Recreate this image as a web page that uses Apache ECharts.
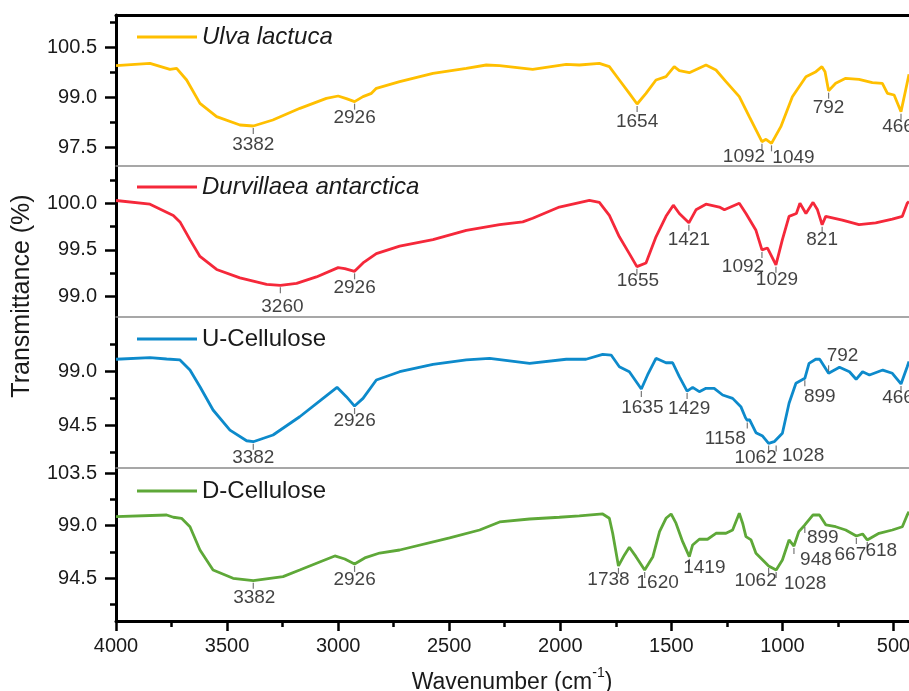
<!DOCTYPE html>
<html><head><meta charset="utf-8">
<script src="https://cdn.jsdelivr.net/npm/echarts@6/dist/echarts.min.js"></script>
<style>html,body{margin:0;padding:0;background:#fff}#c{width:909px;height:691px}</style>
</head><body><div id="c"></div>
<script>
// ---------- data ----------
const seriesNames = ['Ulva lactuca', 'Durvillaea antarctica', 'U-Cellulose', 'D-Cellulose'];

const ulva = [[4000,99.96],[3847,100.03],[3757,99.85],[3727,99.88],[3682,99.53],[3622,98.83],[3547,98.43],[3442,98.18],[3382,98.15],[3294,98.33],[3172,98.68],[3053,98.98],[3000,99.05],[2963,98.97],[2926,98.88],[2888,99.03],[2850,99.13],[2828,99.28],[2723,99.48],[2573,99.73],[2423,99.88],[2333,99.98],[2273,99.96],[2124,99.85],[1973,100.0],[1914,99.98],[1824,100.03],[1779,99.93],[1734,99.53],[1689,99.13],[1654,98.81],[1614,99.13],[1569,99.53],[1524,99.63],[1487,99.93],[1464,99.81],[1419,99.75],[1344,99.98],[1299,99.83],[1254,99.48],[1194,99.03],[1149,98.43],[1092,97.68],[1074,97.75],[1049,97.63],[1007,98.13],[955,99.03],[894,99.63],[849,99.78],[822,99.93],[808,99.78],[792,99.21],[760,99.43],[715,99.58],[655,99.55],[595,99.45],[550,99.43],[527,99.13],[497,99.08],[466,98.58],[445,99.23],[430,99.7]];

const durvillaea = [[4000,100.03],[3847,99.99],[3742,99.87],[3712,99.80],[3667,99.61],[3622,99.43],[3547,99.29],[3442,99.20],[3322,99.13],[3260,99.12],[3187,99.14],[3098,99.21],[3000,99.31],[2970,99.30],[2926,99.27],[2888,99.36],[2828,99.46],[2723,99.54],[2573,99.61],[2423,99.71],[2273,99.77],[2169,99.80],[2124,99.84],[2004,99.96],[1869,100.03],[1824,100.01],[1779,99.87],[1734,99.64],[1689,99.46],[1655,99.32],[1614,99.36],[1569,99.64],[1524,99.86],[1491,99.98],[1464,99.89],[1421,99.79],[1389,99.93],[1344,99.99],[1284,99.96],[1261,99.93],[1194,100.0],[1164,99.89],[1119,99.71],[1092,99.50],[1067,99.52],[1029,99.34],[1000,99.61],[970,99.86],[937,99.89],[921,100.0],[894,99.89],[862,100.01],[842,99.93],[821,99.77],[805,99.86],[730,99.82],[655,99.77],[580,99.79],[505,99.83],[460,99.86],[438,100.0],[430,100.02]];

const uCellulose = [[4000,99.98],[3847,100.11],[3772,100.0],[3712,99.92],[3667,99.08],[3622,97.69],[3563,95.75],[3487,94.08],[3412,93.19],[3382,93.11],[3293,93.67],[3173,95.19],[3068,96.72],[3005,97.64],[2963,96.86],[2926,96.08],[2888,96.72],[2828,98.25],[2723,98.94],[2573,99.56],[2423,99.92],[2318,100.06],[2138,99.64],[1973,99.98],[1884,99.98],[1809,100.39],[1771,100.33],[1734,99.36],[1689,98.94],[1635,97.5],[1607,98.67],[1569,100.06],[1524,99.69],[1494,99.69],[1464,98.53],[1429,97.33],[1404,97.64],[1374,97.28],[1344,97.56],[1307,97.56],[1269,97.0],[1224,96.72],[1187,96.03],[1166,95.1],[1158,94.88],[1148,94.95],[1119,93.86],[1089,93.58],[1062,92.97],[1037,93.11],[1028,92.97],[1000,93.81],[970,96.31],[939,97.98],[899,98.39],[880,99.64],[850,99.98],[832,99.98],[792,98.81],[743,99.31],[698,98.94],[668,98.31],[639,98.94],[608,98.67],[548,99.08],[505,98.81],[466,97.92],[438,99.36],[430,99.8]];

const dCellulose = [[4000,99.77],[3772,99.91],[3742,99.72],[3705,99.63],[3667,98.91],[3622,96.92],[3563,95.21],[3473,94.50],[3382,94.30],[3248,94.64],[3173,95.21],[3083,95.90],[3015,96.41],[2970,96.15],[2926,95.73],[2880,96.24],[2813,96.66],[2723,96.92],[2498,97.95],[2363,98.63],[2273,99.32],[2138,99.57],[2004,99.72],[1914,99.83],[1809,100.0],[1779,99.63],[1764,98.35],[1738,95.56],[1711,96.50],[1689,97.15],[1659,96.35],[1620,95.21],[1583,96.35],[1553,98.49],[1524,99.63],[1501,100.0],[1479,99.21],[1449,97.63],[1419,96.35],[1404,97.35],[1374,97.84],[1337,97.84],[1299,98.35],[1254,98.35],[1224,98.63],[1194,100.06],[1179,99.21],[1164,98.06],[1141,97.78],[1119,96.64],[1074,95.79],[1062,95.56],[1028,95.21],[1000,96.07],[970,97.78],[948,97.26],[926,98.49],[899,99.06],[863,99.91],[833,99.91],[804,99.06],[760,98.91],[715,98.63],[667,98.12],[639,98.29],[618,97.78],[565,98.35],[505,98.63],[460,98.91],[438,99.91],[430,100.2]];

const ulvaPeaks = [3382, 2926, 1654, 1092, 1049, 792, 466];
const durvillaeaPeaks = [3260, 2926, 1655, 1421, 1092, 1029, 821];
const uCellulosePeaks = [3382, 2926, 1635, 1429, 1158, 1062, 1028, 899, 792, 466];
const dCellulosePeaks = [3382, 2926, 1738, 1620, 1419, 1062, 1028, 948, 899, 667, 618];

const xTickLabels = [4000, 3500, 3000, 2500, 2000, 1500, 1000, 500];
const xMinorTicks = [3750, 3250, 2750, 2250, 1750, 1250, 750];
const yTickLabels = [[97.5, 99.0, 100.5], [99.0, 99.5, 100.0], [94.5, 99.0], [94.5, 99.0, 103.5]];
const yMinorTicks = [[98.25, 99.75, 101.25], [99.25, 99.75, 100.25], [92.25, 96.75, 101.25], [92.25, 96.75, 101.25]];

// ---------- layout / style ----------
const allData = [ulva, durvillaea, uCellulose, dCellulose];
const allPeaks = [ulvaPeaks, durvillaeaPeaks, uCellulosePeaks, dCellulosePeaks];
const colors = ['#FFBF00', '#F5283A', '#0D8ACB', '#5EA838'];
const yRanges = [[96.95, 101.48], [98.78, 100.40], [90.92, 103.5], [90.85, 103.93]];
const gridTops = [15, 166, 317, 468];
const gridHeights = [151, 151, 151, 153];
const legendTops = [25, 175, 327, 479];
const labelOffsets = [
  {3382:[0,19], 2926:[0,16], 1654:[0,18], 1092:[-18,15], 1049:[22,14], 792:[0,17], 466:[-3,15]},
  {3260:[2,21], 2926:[0,16], 1655:[1,14], 1421:[0,17], 1092:[-19,17], 1029:[1,15], 821:[0,15]},
  {3382:[0,16], 2926:[0,15], 1635:[1,19], 1429:[2,18], 1158:[-22,18], 1062:[-13,14], 1028:[27,12], 899:[15,18], 792:[14,-18], 466:[-3,14]},
  {3382:[1,17], 2926:[0,16], 1738:[-10,14], 1620:[13,13], 1419:[15,11], 1062:[-13,15], 1028:[29,14], 948:[22,14], 899:[18,13], 667:[-6,19], 618:[14,11]}
];
const FONT = 'Liberation Sans, Arial, Helvetica, sans-serif';
const XMIN = 430, XMAX = 4000;

const grid = [];
for (let k = 0; k < 2; k++) for (let i = 0; i < 4; i++) grid.push({left: 116, right: 0, top: gridTops[i], height: gridHeights[i], containLabel: false, outerBoundsMode: 'none'});

const xAxis = [];
for (let i = 0; i < 4; i++) {
  xAxis.push({gridIndex: i, type: 'value', min: XMIN, max: XMAX, inverse: true, position: 'top',
    axisLine: {show: true, onZero: false, lineStyle: {color: i === 0 ? '#000' : '#8a8a8a', width: i === 0 ? 3 : 1.5}},
    axisTick: {show: false}, axisLabel: {show: false}, splitLine: {show: false}});
}
xAxis.push({gridIndex: 3, type: 'value', min: XMIN, max: XMAX, inverse: true, position: 'bottom',
  axisLine: {show: true, onZero: false, lineStyle: {color: '#000', width: 3}},
  axisTick: {show: true, customValues: xTickLabels, length: 10, inside: false, lineStyle: {color: '#000', width: 2.5}},
  axisLabel: {show: true, customValues: xTickLabels, fontSize: 20, margin: 15, color: '#1a1a1a', fontFamily: FONT,
    formatter: v => String(Math.round(v))},
  splitLine: {show: false}});
for (let i = 0; i < 4; i++) {
  xAxis.push({gridIndex: 4 + i, type: 'value', min: XMIN, max: XMAX, inverse: true, position: 'bottom',
    axisLine: {show: false, onZero: false},
    axisTick: {show: i === 3, customValues: xMinorTicks, length: 6, inside: false, lineStyle: {color: '#000', width: 2.5}},
    axisLabel: {show: false}, splitLine: {show: false}});
}

const yAxis = [];
for (let i = 0; i < 4; i++) {
  yAxis.push({gridIndex: i, type: 'value', min: yRanges[i][0], max: yRanges[i][1], position: 'left',
    axisLine: {show: true, onZero: false, lineStyle: {color: '#000', width: 3}},
    axisTick: {show: true, customValues: yTickLabels[i], length: 11, inside: false, lineStyle: {color: '#000', width: 2.5}},
    axisLabel: {show: true, customValues: yTickLabels[i], fontSize: 20, margin: 19, color: '#1a1a1a', fontFamily: FONT,
      formatter: v => Number(v).toFixed(1)},
    splitLine: {show: false}});
}
for (let i = 0; i < 4; i++) {
  yAxis.push({gridIndex: 4 + i, type: 'value', min: yRanges[i][0], max: yRanges[i][1], position: 'left',
    axisLine: {show: false, onZero: false},
    axisTick: {show: true, customValues: yMinorTicks[i], length: 6, inside: false, lineStyle: {color: '#000', width: 2.5}},
    axisLabel: {show: false}, splitLine: {show: false}});
}

const series = [];
for (let i = 0; i < 4; i++) {
  series.push({name: seriesNames[i], type: 'line', xAxisIndex: i, yAxisIndex: i, data: allData[i],
    symbol: 'none', smooth: false, clip: true, z: 3,
    lineStyle: {color: colors[i], width: 2.8}, itemStyle: {color: colors[i]}});
  const lookup = new Map(allData[i].map(p => [p[0], p[1]]));
  const pts = allPeaks[i].map(w => {
    const off = labelOffsets[i][w] || [0, 16];
    const t = off[1] < 0 ? -5 : 5;
    return {value: [w, lookup.get(w)], symbolOffset: [0, t], label: {offset: [off[0], off[1] - t]}};
  });
  series.push({name: 'peaks' + i, type: 'scatter', xAxisIndex: i, yAxisIndex: i, data: pts,
    symbol: 'rect', symbolSize: [1.2, 6], itemStyle: {color: '#555'}, z: 4, silent: true,
    label: {show: true, position: 'inside', formatter: p => String(p.value[0]), fontSize: 19,
      color: '#111', fontFamily: FONT}});
}

const legend = seriesNames.map((n, i) => ({
  data: [{name: n, icon: 'rect', itemStyle: {color: colors[i]}}], left: 137, top: legendTops[i], padding: 0,
  itemWidth: 60, itemHeight: 3, itemGap: 0, selectedMode: false,
  textStyle: {fontSize: 24, fontStyle: i < 2 ? 'italic' : 'normal', color: '#1a1a1a', fontFamily: FONT}
}));

const option = {
  animation: false,
  backgroundColor: '#ffffff',
  grid, xAxis, yAxis, series, legend,
  graphic: [
    {type: 'text', style: {text: 'Transmittance (%)', fontSize: 25, fontFamily: FONT, fill: '#1a1a1a', align: 'center', verticalAlign: 'middle'},
      rotation: Math.PI / 2, x: 22, y: 296},
    {type: 'text', x: 512, y: 680, style: {
      text: '{a|Wavenumber (cm}{s|-1}{a|)}', fontFamily: FONT, fill: '#1a1a1a', align: 'center', verticalAlign: 'middle',
      rich: {a: {fontSize: 23, fontFamily: FONT, fill: '#1a1a1a', lineHeight: 28, verticalAlign: 'bottom'},
             s: {fontSize: 14, fontFamily: FONT, fill: '#1a1a1a', lineHeight: 28, verticalAlign: 'top'}}
    }}
  ]
};
const chart = echarts.init(document.getElementById('c'), null, {renderer: 'canvas'});
chart.setOption(option);
</script></body></html>
